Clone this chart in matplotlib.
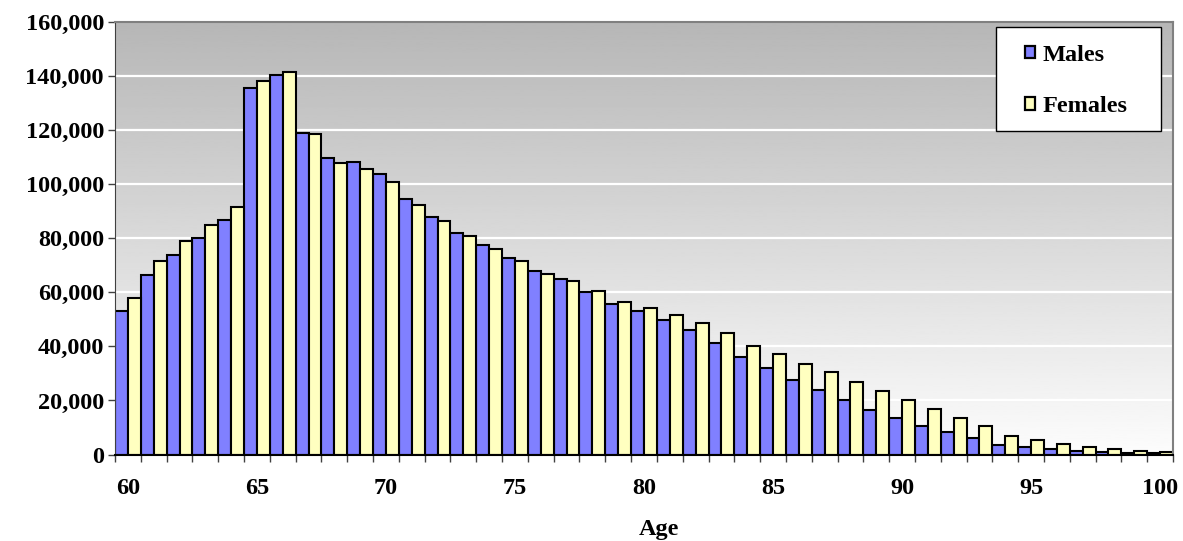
import numpy as np
import matplotlib
matplotlib.use("Agg")
import matplotlib.pyplot as plt
from matplotlib.patches import Rectangle, Patch

# Population by single year of age, 60 to 100
ages = list(range(60, 101))
males = [53000, 66300, 73700, 80000, 86600, 135600, 140100, 118800, 109400, 108100,
         103500, 94400, 87800, 82000, 77600, 72700, 67700, 64700, 59900, 55800,
         53000, 49700, 46200, 41400, 36100, 32100, 27600, 23800, 20000, 16300,
         13400, 10700, 8300, 6100, 3500, 2700, 1900, 1200, 900, 700, 450]
females = [57800, 71400, 78800, 84700, 91400, 138100, 141500, 118300, 107600, 105500,
           100800, 92100, 86400, 80700, 76100, 71700, 66800, 64200, 60600, 56400,
           54100, 51500, 48600, 44800, 40300, 37200, 33600, 30400, 26800, 23500,
           20000, 16900, 13400, 10600, 7000, 5400, 3800, 2800, 2000, 1450, 950]
series_names = ["Males", "Females"]
label_ages = [60, 65, 70, 75, 80, 85, 90, 95, 100]
y_ticks = list(range(0, 160001, 20000))

plt.rcParams["font.family"] = ["Liberation Serif", "DejaVu Serif"]
plt.rcParams["font.weight"] = "bold"

W, H = 1183, 541
fig = plt.figure(figsize=(W / 100, H / 100), dpi=100)
x0, x1, y0, y1 = 115, 1173, 21.5, 454.6
ax = fig.add_axes([x0 / W, 1 - y1 / H, (x1 - x0) / W, (y1 - y0) / H])

n = len(ages)
pos = np.arange(n)
ax.set_xlim(0, n)
ax.set_ylim(0, 160000)

# vertical grey-to-white gradient behind the bars
grad = np.linspace(0.715, 0.99, 256).reshape(-1, 1)
ax.imshow(grad, cmap="gray", vmin=0, vmax=1, aspect="auto",
          extent=(0, n, 0, 160000), origin="upper", zorder=0)

for yv in y_ticks[1:-1]:
    ax.axhline(yv, color="white", lw=1.6, zorder=1)

male_color = "#8080FF"
female_color = "#FFFFC0"
ax.bar(pos + 0.25, males, width=0.5, color=male_color, edgecolor="black",
       linewidth=1.5, zorder=2)
ax.bar(pos + 0.75, females, width=0.5, color=female_color, edgecolor="black",
       linewidth=1.5, zorder=2)

# axes styling
for side in ("top", "right"):
    ax.spines[side].set_color("#808080")
    ax.spines[side].set_linewidth(1.5)
ax.spines["left"].set_color("#404040")
ax.spines["bottom"].set_color("black")
ax.spines["bottom"].set_linewidth(1.5)
ax.spines["bottom"].set_zorder(3)

ax.set_yticks(y_ticks)
ax.set_yticklabels([f"{v:,}" for v in y_ticks])
ax.tick_params(axis="y", direction="out", length=5, width=1, pad=3,
               labelsize=17.5, color="#404040")

ax.set_xticks(np.arange(0, n + 1))
ax.set_xticklabels([])
ax.tick_params(axis="x", which="major", direction="out", length=5, width=1,
               color="#404040")
ax.set_xticks([ages.index(a) + 0.5 for a in label_ages], minor=True)
ax.set_xticklabels([str(a) for a in label_ages], minor=True)
ax.tick_params(axis="x", which="minor", length=0, pad=17, labelsize=17.5)
for lbl in ax.get_xticklabels(minor=True) + ax.get_yticklabels():
    lbl.set_fontweight("bold")

fig.text(659 / W, 1 - 529 / H, "Age", ha="center", va="center",
         fontsize=17.5, fontweight="bold")

# legend box
lx0, lx1, ly0, ly1 = 996, 1161, 27, 131
fig.patches.append(Rectangle((lx0 / W, 1 - ly1 / H), (lx1 - lx0) / W,
                             (ly1 - ly0) / H, transform=fig.transFigure,
                             facecolor="white", edgecolor="black", lw=1.0,
                             zorder=5))
handles = [Patch(facecolor=male_color, edgecolor="black", linewidth=1.6),
           Patch(facecolor=female_color, edgecolor="black", linewidth=1.6)]
leg = fig.legend(handles, series_names, loc="center left",
                 bbox_to_anchor=(1013 / W, 1 - 81 / H), frameon=False,
                 fontsize=17.5, handlelength=0.42, handleheight=0.42,
                 handletextpad=0.3, labelspacing=1.27, borderpad=0)
leg.set_zorder(6)
for t in leg.get_texts():
    t.set_fontweight("bold")

fig.savefig("out.png", dpi=100)
